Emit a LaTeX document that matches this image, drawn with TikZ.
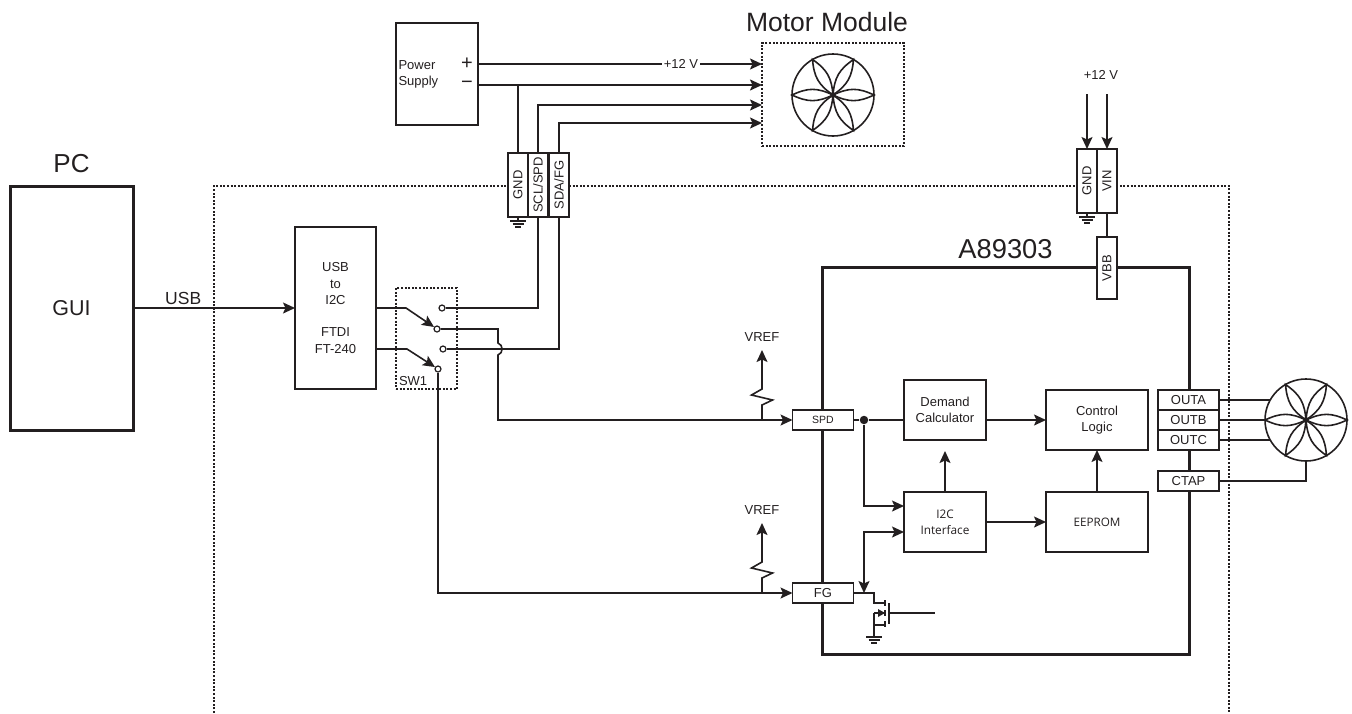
\documentclass[tikz,border=0pt]{standalone}
\usepackage{fontspec}
\setmainfont{Liberation Sans}
\newfontfamily\labelfont{Open Sans}
\usepackage{tikz}
\usetikzlibrary{arrows.meta}
\usetikzlibrary{positioning}
\definecolor{ink}{HTML}{231F20}
\newcommand{\sz}[1]{\fontsize{#1}{16.3}\selectfont}
\tikzset{
    block/.style={draw,inner sep=0pt,outer sep=0pt,align=center,font=\sz{13}},
    chip/.style={block,fill=white,rotate=90,minimum width=64pt,minimum height=20.5pt},
    pin/.style={block,fill=white,minimum width=61pt,minimum height=20pt},
    heavy/.style={block,line width=3pt},
    dotbox/.style={draw,line width=1.1pt,dash pattern=on 2pt off 1.6pt},
    title/.style={inner sep=0pt,outer sep=0pt,font=\sz{26.5}},
    word/.style={inner sep=0pt,outer sep=0pt,font=\sz{13}},
    contact/.style={circle,draw,fill=white,inner sep=0pt,minimum size=6pt,line width=1.2pt},
    motor/.style={circle,draw,inner sep=0pt,outer sep=0pt,minimum size=82pt},
    ground/.pic={\draw (0,0) -- (0,4) (-8,4) -- (8,4) (-5.5,7) -- (5.5,7) (-3,10) -- (3,10);},
    petals/.pic={
        \foreach \a in {0,60,...,300}
            \draw[rotate=\a] (0,0) .. controls (16,7.5) and (25,7.5) .. (41,0)
                .. controls (25,-7.5) and (16,-7.5) .. (0,0);
        \fill (0,0) circle (2.8);
    }
}
\begin{document}
\begin{tikzpicture}[x=1pt,y=-1pt,line width=1.6pt,color=ink,
                    >={Stealth[length=12pt,width=11pt,inset=2.5pt]}]
    \useasboundingbox (0,0) rectangle (1352,713);

    % board outline
    \draw[dotbox] (214,713) |- (1229,186) -- (1229,713);

    % PC and bridge
    \node[heavy,minimum width=123pt,minimum height=244pt,font=\sz{21.5}] (PC) at (71.5,308) {GUI};
    \node[title,font=\sz{26},above=13pt of PC] (PCname) {PC};
    \node[block,minimum width=81pt,minimum height=162pt] (U2I) at (335.5,308)
        {USB\\to\hspace*{6pt}\\I2C\\[16.3pt]FTDI\\FT-240};
    \node[dotbox,minimum width=61pt,minimum height=101pt] (SW) at (426.5,338.5) {};
    \node[word,anchor=south west] (SWname) at (399,386) {SW1};

    % supply and motor module
    \node[block,minimum width=82pt,minimum height=102pt] (PS) at (437,74) {};
    \node[word,anchor=west,align=left] (PSname) at (398.5,74.5) {Power\\Supply};
    \node[word,font=\sz{20}] (plus) at (467,64) {+};
    \node[word,font=\sz{20}] (minus) at (467,85) {\textminus};
    \node[dotbox,minimum width=142pt,minimum height=103pt] (MM) at (833,94.5) {};
    \node[title,above=11pt of MM,xshift=-6pt] (MMname) {Motor Module};
    \node[motor] (M1) at (833,95) {};
    \pic at (M1) {petals};

    % connectors
    \node[chip] (GNDa) at (518,185) {GND};
    \node[chip] (SCL) at (538,185) {SCL/SPD};
    \node[chip] (SDA) at (559,185) {SDA/FG};
    \node[chip] (GNDb) at (1087,181) {GND};
    \node[chip] (VIN) at (1107,181) {VIN};
    \node[word] (V12) at (1101,75) {+12 V};
    \pic at (GNDa.west) {ground};
    \pic at (GNDb.west) {ground};

    % driver
    \node[heavy,minimum width=367pt,minimum height=387pt] (IC) at (1005.5,460.5) {};
    \node[title,font=\sz{27.3},above=8pt of IC] (ICname) {A89303};
    \node[chip,minimum width=62pt] (VBB) at (1107,268) {VBB};
    \node[pin,font=\sz{10.5}] (SPD) at (823,420) {SPD};
    \node[pin] (FG) at (823,593) {FG};
    \node[block,minimum width=82pt,minimum height=60pt] (Dem) at (945,410) {Demand\\Calculator};
    \node[block,minimum width=82pt,minimum height=60pt,font=\labelfont\sz{11.8}] (I2C) at (945,522) {I2C\\Interface};
    \node[block,minimum width=102pt,minimum height=60pt] (Ctrl) at (1097,420) {Control\\Logic};
    \node[block,minimum width=102pt,minimum height=60pt,font=\labelfont\sz{11.7}] (EE) at (1097,522) {EEPROM};
    \node[pin] (OUTA) at (1188.5,400) {OUTA};
    \node[pin,below=0pt of OUTA] (OUTB) {OUTB};
    \node[pin,below=0pt of OUTB] (OUTC) {OUTC};
    \node[pin] (CTAP) at (1188.5,481) {CTAP};
    \node[motor] (M2) at (1306,420) {};
    \pic at (M2) {petals};

    % switch contacts
    \node[contact] (T1) at (442,308) {};
    \node[contact] (P1) at (437,329) {};
    \node[contact] (T2) at (443,349) {};
    \node[contact] (P2) at (438,369) {};
    \node[circle,fill,inner sep=0pt,minimum size=8.5pt] (SPDj) at (864,420) {};
    \node[word,minimum height=26pt] (VREFa) at (762,337) {VREF};
    \node[word,minimum height=26pt] (VREFb) at (762,510) {VREF};

    \coordinate (Ma) at (762,64);
    \coordinate (Mb) at (762,85);
    \coordinate (Mc) at (762,105);
    \coordinate (Md) at (762,123);
    \coordinate (Va) at (1087,94);
    \coordinate (Vb) at (1107,94);
    \coordinate (Sa) at (406,308);
    \coordinate (Sb) at (407,349);
    \coordinate (HopA) at (498,343);
    \coordinate (HopB) at (498,355);
    \coordinate (DemIn) at (904,420);
    \coordinate (DemOut) at (986,420);
    \coordinate (DemTip) at (945,451);
    \coordinate (I2Ca) at (904,506);
    \coordinate (I2Cb) at (904,532);
    \coordinate (FGj) at (864,593);

    % wiring
    \path (PC) edge[->] node[above,pos=.31,inner sep=3pt,font=\sz{17.5}] (USB) {USB} (U2I);
    \draw[->] (PS.east |- plus) -- (Ma);
    \node[word,fill=white,inner xsep=1.5pt,inner ysep=1pt] (V12m) at (681,64) {+12 V};
    \draw[->,line width=1.9pt] (PS.east |- minus) -- (Mb);
    \draw (GNDa.east) -- (GNDa.east |- Mb);
    \draw[->] (SCL.east) |- (Mc);
    \draw[->] (SDA.east) |- (Md);
    \draw[->] (Va) -- (GNDb.east);
    \draw[->] (Vb) -- (VIN.east);
    \draw (VIN.west) -- (VBB.east);
    \draw[->] (U2I.east |- Sa) -- (Sa) -- (P1);
    \draw[->] (U2I.east |- Sb) -- (Sb) -- (P2);
    \draw (T1) -| (SCL.west);
    \draw (T2) -| (SDA.west);
    \draw[->] (P1) -| (HopA) .. controls (503.5,345) and (503.5,353) .. (HopB) |- (SPD.west);
    \draw[->] (P2) |- (FG.west);
    \draw (SPD.east) -- (SPDj);
    \draw (SPDj) -- (DemIn);
    \draw[->] (DemOut) -- (Ctrl.west);
    \draw[->] (SPDj) |- (I2Ca);
    \draw[<->] (FGj) |- (I2Cb);
    \draw[->] (I2C.north) -- (DemTip);
    \draw[->] (I2C.east) -- (EE.west);
    \draw[->] (EE.north) -- (Ctrl.south);
    \draw (OUTA.east) -- (OUTA.east -| M2.151);
    \draw (OUTB.east) -- (M2.west);
    \draw (OUTC.east) -- (OUTC.east -| M2.209);
    \draw (CTAP.east) -| (M2.south);

    % reference resistors
    \foreach \n/\p in {VREFa/SPD,VREFb/FG}
        \draw[->] (\n |- \p.west) -- ++(0,-15) -- ++(10.5,-5) -- ++(-21,-5) -- ++(10.5,-6) -- (\n.south);

    % output transistor
    \coordinate (Qa) at (874,593);
    \coordinate (Qd) at (885,603);
    \coordinate (Qm) at (874,613);
    \coordinate (Qs) at (885,625);
    \coordinate (Qg) at (889,613);
    \coordinate (Qin) at (935,613);
    \coordinate (Qb) at (874,637);
    \draw (FG.east) -- (Qa) |- (Qd);
    \draw (Qm) -- (885,613);
    \draw (Qs) -| (Qm) -- (Qb);
    \fill (878,609) -- (885,613) -- (878,617) -- cycle;
    \draw (885,600) -- (885,606) (885,610) -- (885,616) (885,621) -- (885,627);
    \draw[line width=1.8pt] (889,603) -- (889,624);
    \draw (Qg) -- (Qin);
    \pic at ([yshift=4pt]Qb) {ground};
\end{tikzpicture}
\end{document}
